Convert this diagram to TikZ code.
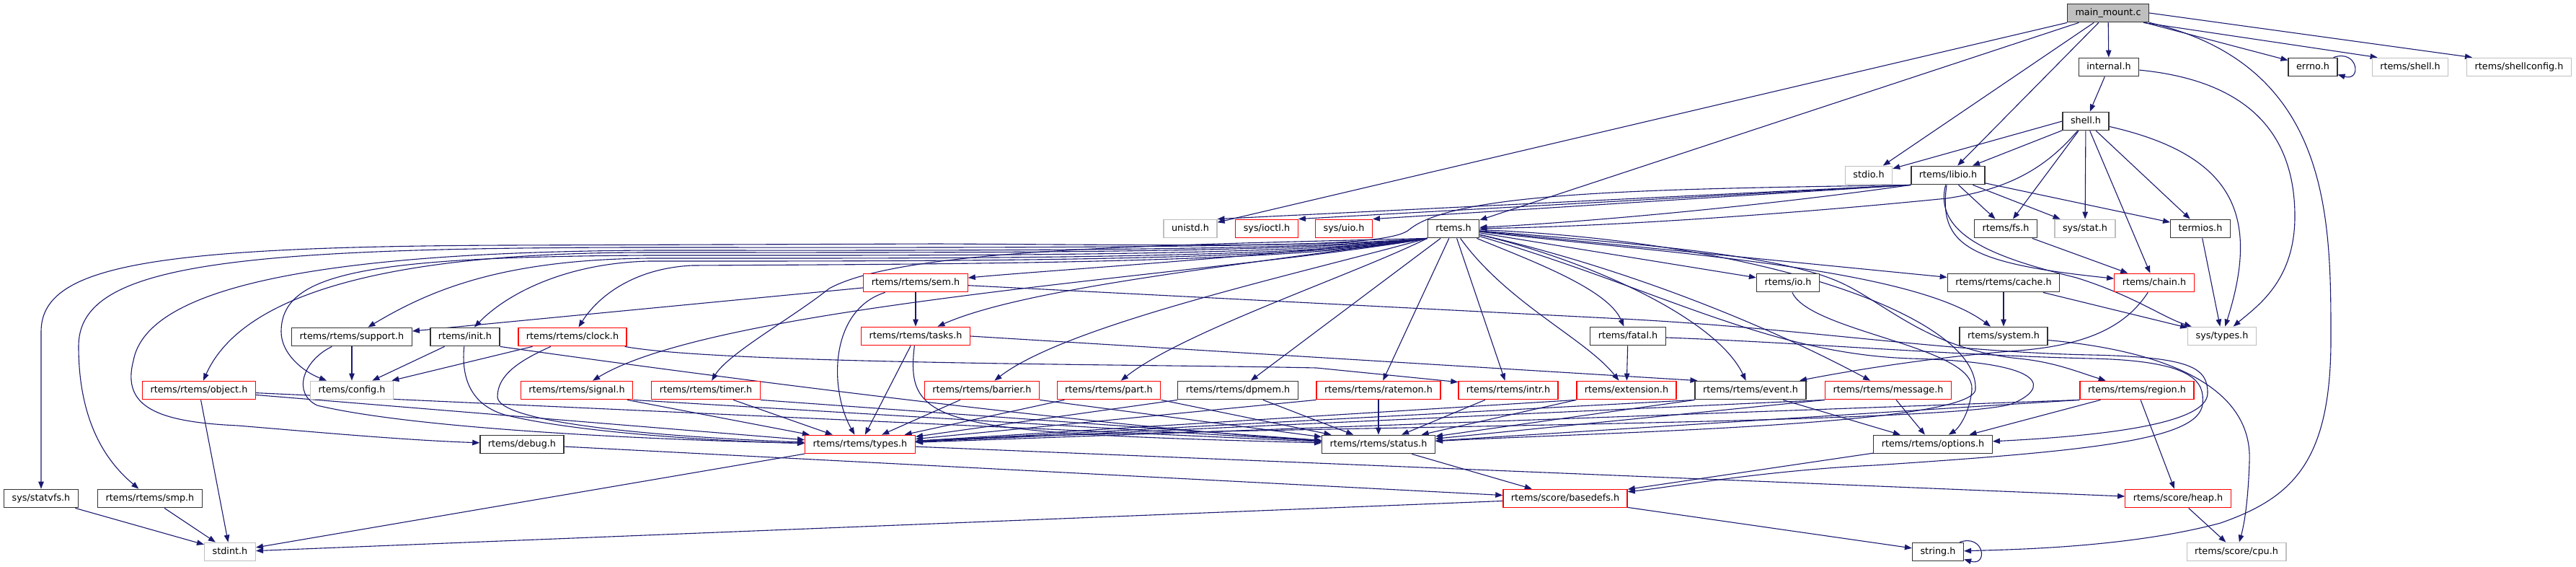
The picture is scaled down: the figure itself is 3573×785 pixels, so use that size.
\documentclass[tikz,border=0pt]{standalone}
\usepackage{fontspec}
\setmainfont{DejaVu Sans}
\usetikzlibrary{arrows.meta,backgrounds}
\definecolor{depblue}{RGB}{25,25,112}
\definecolor{sysgray}{RGB}{191,191,191}
\begin{document}
\begin{tikzpicture}[x=1pt, y=-1pt,
		font=\fontsize{12.8}{15}\selectfont,
		inclbase/.style={draw, fill=white, line width=1.3pt, inner xsep=11pt, inner ysep=0pt, minimum height=25.5pt, text height=9.7pt, text depth=2.7pt},
		incl/.style={inclbase, draw=black!80},
		incltrunc/.style={inclbase, draw=red},
		inclsys/.style={inclbase, draw=sysgray},
		dep/.style={draw=depblue, line width=1.1pt, -{Triangle[length=10pt, width=7.5pt]}}]
		\useasboundingbox (0,0) rectangle (3573,785);
		\node (main) at (2924,18) [incl, fill=sysgray] {main\_mount.c};
		\node (internal) at (2925,93) [incl] {internal.h};
		\node (errno) at (3208,93) [incl] {errno.h};
		\node (rshell) at (3343,93) [inclsys] {rtems/shell.h};
		\node (shellcfg) at (3494,93) [inclsys] {rtems/shellconfig.h};
		\node (shell) at (2893,168) [incl] {shell.h};
		\node (stdio) at (2592,243) [inclsys] {stdio.h};
		\node (libio) at (2702,243) [incl] {rtems/libio.h};
		\node (unistd) at (1651,317) [inclsys] {unistd.h};
		\node (ioctl) at (1757,317) [incltrunc] {sys/ioctl.h};
		\node (uio) at (1864,317) [incltrunc] {sys/uio.h};
		\node (rtems) at (2016,317) [incl] {rtems.h};
		\node (fs) at (2782,317) [incl] {rtems/fs.h};
		\node (stat) at (2892,317) [inclsys] {sys/stat.h};
		\node (termios) at (3052,317) [incl] {termios.h};
		\node (sem) at (1270,392) [incltrunc] {rtems/rtems/sem.h};
		\node (io) at (2480,392) [incl] {rtems/io.h};
		\node (cache) at (2779,392) [incl] {rtems/rtems/cache.h};
		\node (chain) at (2988,392) [incltrunc] {rtems/chain.h};
		\node (support) at (488,467) [incl] {rtems/rtems/support.h};
		\node (init) at (645,467) [incl] {rtems/init.h};
		\node (clock) at (794,467) [incltrunc] {rtems/rtems/clock.h};
		\node (tasks) at (1270,466) [incltrunc] {rtems/rtems/tasks.h};
		\node (fatal) at (2258,466) [incl] {rtems/fatal.h};
		\node (system) at (2779,466) [incl] {rtems/system.h};
		\node (systypes) at (3082,466) [inclsys] {sys/types.h};
		\node (object) at (276,541) [incltrunc] {rtems/rtems/object.h};
		\node (config) at (488,541) [inclsys] {rtems/config.h};
		\node (signal) at (800,541) [incltrunc] {rtems/rtems/signal.h};
		\node (timer) at (979,541) [incltrunc] {rtems/rtems/timer.h};
		\node (barrier) at (1362,541) [incltrunc] {rtems/rtems/barrier.h};
		\node (part) at (1538,541) [incltrunc] {rtems/rtems/part.h};
		\node (dpmem) at (1717,541) [incl] {rtems/rtems/dpmem.h};
		\node (ratemon) at (1912,541) [incltrunc] {rtems/rtems/ratemon.h};
		\node (intr) at (2092,541) [incltrunc] {rtems/rtems/intr.h};
		\node (extension) at (2256,541) [incltrunc] {rtems/extension.h};
		\node (event) at (2428,541) [incl] {rtems/rtems/event.h};
		\node (message) at (2619,541) [incltrunc] {rtems/rtems/message.h};
		\node (region) at (2964,541) [incltrunc] {rtems/rtems/region.h};
		\node (debug) at (724,616) [incl] {rtems/debug.h};
		\node (types) at (1193,616) [incltrunc] {rtems/rtems/types.h};
		\node (status) at (1912,616) [incl] {rtems/rtems/status.h};
		\node (options) at (2681,616) [incl] {rtems/rtems/options.h};
		\node (statvfs) at (57,691) [incl] {sys/statvfs.h};
		\node (smp) at (208,691) [incl] {rtems/rtems/smp.h};
		\node (basedefs) at (2171,691) [incltrunc] {rtems/score/basedefs.h};
		\node (heap) at (3021,691) [incltrunc] {rtems/score/heap.h};
		\node (stdint) at (319,765) [inclsys] {stdint.h};
		\node (string) at (2688,765) [incl] {string.h};
		\node (cpu) at (3102,765) [inclsys] {rtems/score/cpu.h};
		
		\begin{scope}[on background layer]
		\fill [white] (0,0) rectangle (3573,785);
		\draw [dep] (main) -- (internal);
		\draw [dep] (main) -- ([yshift=-4pt]errno.north west);
		\draw [dep] ([xshift=-8pt]main.south east) -- ([xshift=8pt]rshell.north west);
		\draw [dep] (main.east) -- ([xshift=8pt]shellcfg.north west);
		\draw [dep] (main) -- (stdio);
		\draw [dep] (main) -- (libio);
		\draw [dep] (main) -- (unistd);
		\draw [dep] (main) -- (rtems);
		\draw [dep] (main) .. controls (3233,90) and (3233,300) .. (3233,470) .. controls (3233,640) and (3180,690) .. (3080,725) .. controls (2950,760) and (2780,762) .. (string);
		\draw [dep] ([xshift=-6pt]errno.north east) .. controls +(34,-12) and +(34,10) .. ([yshift=3pt]errno.south east);
		\draw [dep] ([xshift=-6pt]string.north east) .. controls +(34,-12) and +(34,10) .. ([yshift=3pt]string.south east);
		
		\draw [dep] (internal) -- (shell);
		\draw [dep] (internal) .. controls (3100,110) and (3183,170) .. (3183,300) .. controls (3183,390) and (3130,425) .. (systypes);
		
		\draw [dep] (shell.west) -- (stdio);
		\draw [dep] (shell) -- (libio);
		\draw [dep] (shell) .. controls (2840,230) and (2790,262) .. (2700,275) .. controls (2450,300) and (2200,315) .. (rtems);
		\draw [dep] (shell) -- (fs);
		\draw [dep] (shell) -- (stat);
		\draw [dep] (shell) -- (chain);
		\draw [dep] (shell) -- (termios);
		\draw [dep] (shell) .. controls (3100,215) and (3135,300) .. (systypes);
		
		\draw [dep] (libio.south west) .. controls (2300,262) and (2020,265) .. (1955,318) .. controls (1925,345) and (1700,340) .. (1300,338) -- (700,340) .. controls (200,342) and (57,370) .. (57,460) -- (statvfs);
		\draw [dep] (libio.south west) -- (uio.north east);
		\draw [dep] (libio.south west) -- (ioctl.north east);
		\draw [dep] (libio.south west) -- (unistd.north east);
		\draw [dep] (libio.south west) .. controls (2450,285) and (2200,308) .. (rtems);
		\draw [dep] (libio) -- (fs);
		\draw [dep] (libio) -- (stat);
		\draw [dep] (libio) -- (termios);
		\draw [dep] (libio) .. controls (2688,340) and (2730,365) .. (chain);
		\draw [dep] (libio) .. controls (2680,330) and (2780,360) .. (2880,385) .. controls (2960,410) and (3000,440) .. (systypes);
		
		\draw [dep] (rtems.south west) .. controls (1800,345) and (1300,343) .. (900,343) .. controls (300,343) and (109,370) .. (109,480) .. controls (109,600) and (160,650) .. (smp);
		\draw [dep] (rtems.south west) .. controls (1800,349) and (1300,347) .. (900,347) .. controls (350,350) and (200,420) .. (185,500) .. controls (168,565) and (220,585) .. (330,590) .. controls (450,600) and (560,610) .. (debug);
		\draw [dep] (rtems.south west) .. controls (1800,352) and (1300,350) .. (900,350) .. controls (500,350) and (330,420) .. (object);
		\draw [dep] (rtems.south west) .. controls (1800,356) and (1300,354) .. (900,354) .. controls (500,356) and (390,380) .. (390,460) .. controls (390,490) and (420,515) .. (config);
		\draw [dep] (rtems.south west) .. controls (1800,360) and (1300,358) .. (900,358) .. controls (700,360) and (600,400) .. (support);
		\draw [dep] (rtems.south west) .. controls (1800,363) and (1300,362) .. (900,362) .. controls (780,365) and (700,410) .. (init);
		\draw [dep] (rtems.south west) .. controls (1800,366) and (1300,366) .. (960,368) .. controls (880,372) and (830,410) .. (clock);
		\draw [dep] (rtems.south west) .. controls (1700,360) and (1450,375) .. (sem);
		\draw [dep] (rtems.south west) .. controls (1700,370) and (1420,400) .. (tasks);
		\draw [dep] (rtems.south west) .. controls (1700,380) and (1000,420) .. (signal);
		\draw [dep] (rtems.south west) .. controls (1600,340) and (1250,345) .. (1150,400) .. controls (1100,440) and (1010,490) .. (timer);
		\draw [dep] (rtems.south west) .. controls (1800,380) and (1480,450) .. (barrier);
		\draw [dep] (rtems.south west) .. controls (1880,380) and (1640,460) .. (part);
		\draw [dep] (rtems) -- (dpmem);
		\draw [dep] (rtems) -- (ratemon);
		\draw [dep] (rtems) -- (intr);
		\draw [dep] (rtems) .. controls (2090,420) and (2200,470) .. (extension);
		\draw [dep] (rtems) .. controls (2120,360) and (2230,400) .. (fatal);
		\draw [dep] (rtems) .. controls (2200,360) and (2380,440) .. (event);
		\draw [dep] (rtems) .. controls (2250,370) and (2450,450) .. (message);
		\draw [dep] (rtems) -- (io);
		\draw [dep] (rtems) -- (cache);
		\draw [dep] (rtems) .. controls (2300,350) and (2650,370) .. (system);
		\draw [dep] (rtems) .. controls (2300,340) and (2480,355) .. (2560,395) .. controls (2620,425) and (2680,485) .. (2800,497) .. controls (2850,502) and (2880,515) .. (region);
		\draw [dep] (rtems) .. controls (2450,335) and (2745,440) .. (2740,540) .. controls (2735,590) and (2200,600) .. (status);
		\draw [dep] (rtems) .. controls (2300,400) and (2450,490) .. (2650,497) .. controls (2850,502) and (2840,540) .. (2790,560) .. controls (2700,590) and (1600,592) .. (types);
		
		\draw [dep] (sem) -- (support);
		\draw [dep] (sem) -- (tasks);
		\draw [dep] (sem) .. controls (1150,430) and (1150,540) .. (types);
		\draw [dep] (sem) -- (2250,442) .. controls (2500,455) and (2700,488) .. (2900,492) .. controls (3040,495) and (3062,510) .. (3062,545) .. controls (3062,590) and (2900,605) .. (options);
		
		\draw [dep] (tasks) -- (types);
		\draw [dep] (tasks) .. controls (1255,590) and (1300,600) .. (status);
		\draw [dep] (tasks.east) -- ([xshift=4pt]event.north west);
		
		\draw [dep] (support) -- (config);
		\draw [dep] (support) .. controls (420,500) and (405,545) .. (440,562) .. controls (600,600) and (1000,612) .. (types);
		\draw [dep] (init) -- (config);
		\draw [dep] (init) .. controls (640,520) and (650,560) .. (700,575) .. controls (800,600) and (1000,612) .. (types);
		\draw [dep] (init.south east) .. controls (900,510) and (1500,590) .. (status);
		\draw [dep] (clock) -- (config);
		\draw [dep] (clock) .. controls (720,500) and (690,520) .. (690,550) .. controls (690,585) and (900,605) .. (types);
		\draw [dep] (clock) .. controls (1000,505) and (1600,505) .. (1826,510) -- ([yshift=-2pt]intr.north west);
		
		\draw [dep] (object) -- (stdint);
		\draw [dep] (object) -- (types);
		\draw [dep] (object) -- (status);
		\draw [dep] (signal) -- (types);
		\draw [dep] (signal.south east) -- (status);
		\draw [dep] (timer) -- (types);
		\draw [dep] (timer.south east) -- (status);
		\draw [dep] (barrier) -- (types);
		\draw [dep] (barrier.south east) -- (status);
		\draw [dep] (part) -- (types);
		\draw [dep] (part.south east) -- (status);
		\draw [dep] (dpmem.south west) -- (types);
		\draw [dep] (dpmem) -- (status);
		\draw [dep] (ratemon) -- (status);
		\draw [dep] (ratemon.south west) -- (types);
		\draw [dep] (intr) -- (status);
		\draw [dep] (extension.south west) -- (status);
		\draw [dep] (extension.south west) -- (types);
		\draw [dep] (event) -- (options);
		\draw [dep] (event.south west) -- (status);
		\draw [dep] (event.south west) -- (types);
		\draw [dep] (message) -- (options);
		\draw [dep] (message.south west) -- (status);
		\draw [dep] (message.south west) -- (types);
		\draw [dep] (region) -- (heap);
		\draw [dep] (region) -- (options);
		\draw [dep] (region.south west) -- (status);
		\draw [dep] (region.south west) -- (types);
		
		\draw [dep] (debug) -- (basedefs);
		\draw [dep] (types) -- (stdint);
		\draw [dep] (types) -- (heap);
		\draw [dep] (status) -- (basedefs);
		\draw [dep] (options) -- (basedefs);
		\draw [dep] (basedefs) -- (stdint);
		\draw [dep] (basedefs) -- (string);
		\draw [dep] (heap) -- (cpu);
		\draw [dep] (statvfs) -- (stdint);
		\draw [dep] (smp) -- (stdint);
		\draw [dep] (fs) -- (chain);
		\draw [dep] (termios) -- (systypes);
		\draw [dep] (cache) -- (system);
		\draw [dep] (cache) -- (systypes);
		\draw [dep] (chain) .. controls (2950,450) and (2900,478) .. (2800,486) .. controls (2680,495) and (2560,515) .. (event);
		\draw [dep] (system) .. controls (2990,485) and (3125,530) .. (3120,640) .. controls (3118,700) and (3112,730) .. (cpu);
		\draw [dep] (io) .. controls (2510,460) and (2740,480) .. (2735,540) .. controls (2732,575) and (2715,595) .. (options);
		\draw [dep] (fatal) -- (extension);
		\draw [dep] (fatal) .. controls (2500,475) and (2700,492) .. (2900,497) .. controls (3045,500) and (3058,530) .. (3055,560) .. controls (3050,610) and (2900,625) .. (2600,645) .. controls (2450,652) and (2320,675) .. (basedefs);
		\end{scope}
\end{tikzpicture}
\end{document}
